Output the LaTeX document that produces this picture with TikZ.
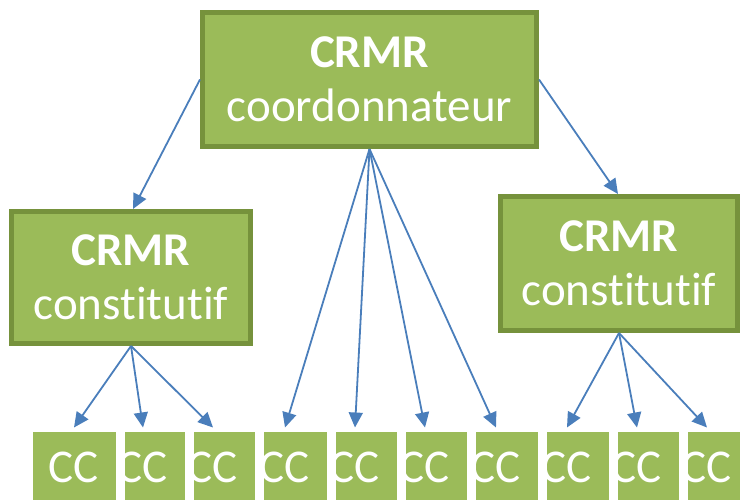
\documentclass[tikz,border=0pt]{standalone}
\usepackage{fontspec}
\setmainfont{Carlito}[Ligatures=NoCommon]
\usepackage{xcolor}
\usetikzlibrary{arrows.meta}
\definecolor{crmrgreen}{HTML}{9BBB59}
\definecolor{crmrborder}{HTML}{76923C}
\definecolor{linkblue}{HTML}{4A7EBB}

\begin{document}
\begin{tikzpicture}[x=1pt,y=-1pt,
    crmr/.style={rectangle,fill=crmrgreen,draw=crmrborder,line width=5pt,text=white,
      align=center,font=\fontsize{47}{54}\selectfont,inner sep=0pt},
    ccbox/.style={rectangle,fill=crmrgreen,draw=white,line width=9pt,text=white,
      font=\fontsize{47}{54}\selectfont,minimum width=92pt,minimum height=79pt,
      inner sep=0pt,outer sep=0pt},
    link/.style={draw=linkblue,line width=1.8pt,-{Triangle[length=15pt,width=14pt]}}]
      \useasboundingbox (0,0) rectangle (740,499);

      \node (coord) at (369.5,79.5) [crmr,minimum width=334pt,minimum height=134pt] {\textbf{CRMR}\\coordonnateur};
      \node (constl) at (131,277.5) [crmr,minimum width=239pt,minimum height=132pt] {\textbf{CRMR}\\constitutif};
      \node (constr) at (619,263.5) [crmr,minimum width=237pt,minimum height=134pt] {\textbf{CRMR}\\constitutif};

      % right to left, each box overlaps the next one
      \node (cc10) at (707,467) [ccbox] {CC};
      \node (cc9) at (637,467) [ccbox] {CC};
      \node (cc8) at (567,467) [ccbox] {CC};
      \node (cc7) at (496,467) [ccbox] {CC};
      \node (cc6) at (425,467) [ccbox] {CC};
      \node (cc5) at (355,467) [ccbox] {CC};
      \node (cc4) at (285,467) [ccbox] {CC};
      \node (cc3) at (213,467) [ccbox] {CC};
      \node (cc2) at (143,467) [ccbox] {CC};
      \node (cc1) at (74,467) [ccbox] {CC};

      \draw[link] (coord.west) -- ([xshift=2pt]constl.north);
      \draw[link] (coord.east) -- ([xshift=-1pt]constr.north);

      \draw[link] (constl.south) -- (cc1.north);
      \draw[link] (constl.south) -- (cc2.north);
      \draw[link] (constl.south) -- (cc3.north);

      \draw[link] (coord.south) -- (cc4.north);
      \draw[link] (coord.south) -- (cc5.north);
      \draw[link] (coord.south) -- (cc6.north);
      \draw[link] (coord.south) -- (cc7.north);

      \draw[link] (constr.south) -- (cc8.north);
      \draw[link] (constr.south) -- (cc9.north);
      \draw[link] (constr.south) -- (cc10.north);
    \end{tikzpicture}
\end{document}
